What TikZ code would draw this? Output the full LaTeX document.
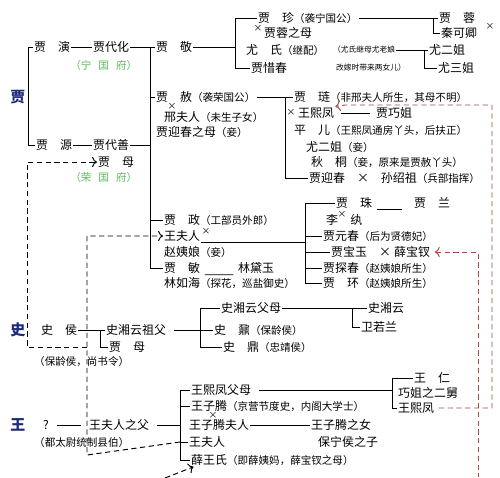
\documentclass[tikz,border=0pt]{standalone}
\usepackage{fontspec}
\setmainfont{Noto Sans CJK SC}
\usepackage{tikz}
\usetikzlibrary{arrows.meta}
\definecolor{famblue}{HTML}{1F2A7A}
\definecolor{fugreen}{HTML}{5DB85C}
\definecolor{redline}{HTML}{A84848}
\newcommand{\nt}{\fontsize{6}{6.5}\selectfont}
\newcommand{\ntt}{\fontsize{4.4}{5}\selectfont}

\begin{document}
\begin{tikzpicture}[x=0.02cm,y=-0.02cm,
  nm/.style={anchor=west,inner sep=0.5pt,font=\fontsize{6.8}{8}\selectfont},
  fam/.style={anchor=west,inner sep=0pt,text=famblue,font=\fontsize{8.5}{9}\selectfont\bfseries},
  fu/.style={anchor=west,inner sep=0pt,text=fugreen,font=\nt},
  mk/.style={inner sep=0pt,font=\fontsize{5}{5}\selectfont},
  link/.style={line width=0.55pt},
  kin/.style={line width=0.55pt,dash pattern=on 3pt off 2pt,->},
  redkin/.style={line width=0.55pt,redline,dash pattern=on 3pt off 2pt}]
\useasboundingbox (0,0) rectangle (500,477);
% brackets and bends
\coordinate (bJia) at (28,0);
\coordinate (bDai) at (150,0);
\coordinate (bJing) at (235,0);
\coordinate (bRong) at (433,0);
\coordinate (bYou) at (424,0);
\coordinate (bShe) at (285,0);
\coordinate (bZheng) at (305,0);
\coordinate (bHou) at (100,0);
\coordinate (bZufu) at (200,0);
\coordinate (bFumu) at (352,0);
\coordinate (bWang) at (180,0);
\coordinate (bXffm) at (392,0);
\coordinate (dL) at (27,0);
\coordinate (dM) at (87,0);
\coordinate (dMb) at (87,455);
\coordinate (xueFrom) at (165,478);
\coordinate (rTop) at (492,105);
\coordinate (rBend) at (345,105);
\coordinate (rBot) at (478,477);

% 宁国府
\node[fam] (jia) at (10,97) {贾};
\node[nm] (yan) at (33,47) {贾　演};
\node[nm] (daihua) at (92,47) {贾代化};
\node[fu] (ningfu) at (70,65) {（宁\hspace{4pt}国\hspace{4pt}府）};
\node[nm] (jing) at (155,47) {贾　敬};
\node[nm] (zhen) at (257,18) {贾　珍{\nt（袭宁国公）}};
\node[mk] (x1) at (258,28) {×};
\node[nm] (rongmu) at (263,33) {贾蓉之母};
\node[nm] (youshi) at (245,50) {尤　氏{\nt（继配）}};
\node[nm,font=\ntt] (younote) at (332,50) {（尤氏继母尤老娘};
\node[nm,font=\ntt] (gaijia) at (335,68) {改嫁时带来两女儿）};
\node[nm] (xichun) at (250,68) {贾惜春};
\node[nm] (rong) at (438,18) {贾　蓉};
\node[nm] (qin) at (440,33) {秦可卿};
\node[mk] (x2) at (490,26) {×};
\node[nm] (erjie) at (428,50) {尤二姐};
\node[nm] (sanjie) at (437,68) {尤三姐};
\draw[link] (yan) -- (daihua);
\draw[link] (daihua) -- (jing);
\draw[link] (jing) -- (jing -| bJing);
\draw[link] (zhen.west) -- (zhen.west -| bJing) -- (xichun.west -| bJing) -- (xichun.west);
\draw[link] (zhen) -- (zhen -| bRong);
\draw[link] (rong.west) -- (rong.west -| bRong) -- (qin.west -| bRong) -- (qin.west);
\draw[link] (younote) -- (younote -| bYou);
\draw[link] (erjie.west) -- (erjie.west -| bYou) -- (sanjie.west -| bYou) -- (sanjie.west);

% 荣国府
\node[nm] (yuan) at (35,145) {贾　源};
\node[nm] (daishan) at (92,145) {贾代善};
\node[nm] (jiamu) at (97,162) {贾　母};
\node[fu] (rongfu) at (70,177) {（荣\hspace{4pt}国\hspace{4pt}府）};
\node[nm] (she) at (155,97) {贾　赦{\nt（袭荣国公）}};
\node[mk] (x3) at (172,106) {×};
\node[nm] (xing) at (163,117) {邢夫人{\nt（未生子女）}};
\node[nm] (yingmu) at (155,132) {贾迎春之母{\nt（妾）}};
\node[nm] (lian) at (293,97) {贾　琏{\nt（非邢夫人所生，其母不明）}};
\node[mk] (x4) at (291,112) {×};
\node[nm] (xifeng) at (297,113) {王熙凤};
\node[nm] (qiaojie) at (375,113) {贾巧姐};
\node[nm] (pinger) at (293,130) {平　儿{\nt（王熙凤通房丫头，后扶正）}};
\node[nm] (youer) at (305,147) {尤二姐{\nt（妾）}};
\node[nm] (qiutong) at (310,162) {秋　桐{\nt（妾，原来是贾赦丫头）}};
\node[nm] (yingchun) at (308,178) {贾迎春　×　孙绍祖{\nt（兵部指挥）}};
\draw[link] (yan.west) -- (yan.west -| bJia) -- (yuan.west -| bJia) -- (yuan.west);
\draw[link] (yuan) -- (daishan);
\draw[link] (daishan) -- (daishan -| bDai);
\draw[link] (she) -- (she -| bShe);
\draw[link] (lian.west) -- (lian.west -| bShe) -- (yingchun.west -| bShe) -- (yingchun.west);
\draw[link,shorten <=3pt,shorten >=3pt] (xifeng) -- (qiaojie);

% 贾政一支
\node[nm] (zheng) at (163,220) {贾　政{\nt（工部员外郎）}};
\node[nm] (wangfuren) at (163,236) {王夫人};
\node[mk] (x5) at (206,231) {×};
\node[nm] (zhao) at (163,252) {赵姨娘{\nt（妾）}};
\node[nm] (min) at (163,268) {贾　敏};
\node[nm] (daiyu) at (237,268) {林黛玉};
\node[nm] (ruhai) at (163,283) {林如海{\nt（探花，巡盐御史）}};
\node[nm] (zhu) at (335,203) {贾　珠};
\node[nm] (lan) at (413,203) {贾　兰};
\node[nm] (liwan) at (325,220) {李\hspace{7pt}纨};
\node[mk] (x6) at (342,214) {×};
\node[nm] (yuanchun) at (322,236) {贾元春{\nt（后为贤德妃）}};
\node[nm] (baoyu) at (330,252) {贾宝玉　×};
\node[nm] (baochai) at (393,252) {薛宝钗};
\node[nm] (tanchun) at (322,268) {贾探春{\nt（赵姨娘所生）}};
\node[nm] (huan) at (322,283) {贾　环{\nt（赵姨娘所生）}};
\draw[link] (jing.west -| bDai) -- (min.west -| bDai);
\draw[link] (she.west) -- (she.west -| bDai);
\draw[link] (zheng.west) -- (zheng.west -| bDai);
\draw[link] (min.west) -- (min.west -| bDai);
\draw[link] (wangfuren.south east) -- (wangfuren.south east -| bZheng);
\draw[link,shorten <=2pt,shorten >=2pt] (min.south east) -- (daiyu.south west);
\draw[link,shorten <=2pt,shorten >=6pt] (zhu.south east) -- (lan.south west);
\draw[link] (zhu.west) -- (zhu.west -| bZheng) -- (huan.west -| bZheng) -- (huan.west);
\draw[link] (yuanchun.west -| bZheng) -- (yuanchun.west);
\draw[link] (baoyu.west -| bZheng) -- (baoyu.west);
\draw[link] (tanchun.west -| bZheng) -- (tanchun.west);

% 史家
\node[fam] (shi) at (10,330) {史};
\node[nm] (shihou) at (40,330) {史　侯};
\node[nm,font=\nt] (shinote) at (33,362) {（保龄侯，尚书令）};
\node[nm] (zufu) at (105,330) {史湘云祖父};
\node[nm] (jiamuS) at (108,347) {贾　母};
\node[nm] (fumu) at (220,308) {史湘云父母};
\node[nm] (nai) at (213,330) {史　鼐{\nt（保龄侯）}};
\node[nm] (ding) at (222,347) {史　鼎{\nt（忠靖侯）}};
\node[nm] (xiangyun) at (367,308) {史湘云};
\node[nm] (ruolan) at (360,327) {卫若兰};
\draw[link] (shihou) -- (shihou -| bHou);
\draw[link] (zufu.west) -- (zufu.west -| bHou) -- (jiamuS.west -| bHou) -- (jiamuS.west);
\draw[link,shorten <=4pt] (zufu) -- (zufu -| bZufu);
\draw[link] (fumu.west) -- (fumu.west -| bZufu) -- (ding.west -| bZufu) -- (ding.west);
\draw[link] (nai.west) -- (nai.west -| bZufu);
\draw[link] (fumu) -- (fumu -| bFumu);
\draw[link] (xiangyun.west) -- (xiangyun.west -| bFumu) -- (ruolan.west -| bFumu) -- (ruolan.west);

% 王家
\node[fam] (wang) at (10,425) {王};
\node[nm] (wq) at (42,425) {?};
\node[nm] (wfzf) at (88,425) {王夫人之父};
\node[nm,font=\nt] (wnote) at (33,442) {（都太尉统制县伯）};
\node[nm] (xffm) at (190,390) {王熙凤父母};
\node[nm] (zt) at (190,406) {王子腾{\nt（京营节度史，内阁大学士）}};
\node[mk] (x7) at (213,415) {×};
\node[nm] (ztfr) at (188,425) {王子腾夫人};
\node[nm] (ztnv) at (310,425) {王子腾之女};
\node[nm] (wfrW) at (188,442) {王夫人};
\node[nm] (bnz) at (317,442) {保宁侯之子};
\node[nm] (xuewang) at (190,460) {薛王氏{\nt（即薛姨妈，薛宝钗之母）}};
\node[nm] (wangren) at (413,378) {王　仁};
\node[nm] (erjiu) at (397,393) {巧姐之二舅};
\node[nm] (xfW) at (397,408) {王熙凤};
\draw[link,shorten <=4pt,shorten >=4pt] (wq) -- (wfzf);
\draw[link,shorten <=4pt] (wfzf) -- (wfzf -| bWang);
\draw[link] (xffm.west) -- (xffm.west -| bWang) -- (xuewang.west -| bWang) -- (xuewang.west);
\draw[link] (zt.west) -- (zt.west -| bWang);
\draw[link] (wfrW.west) -- (wfrW.west -| bWang);
\draw[link] (ztfr) -- (ztnv);
\draw[link,shorten <=4pt] (xffm) -- (xffm -| bXffm);
\draw[link] (wangren.west) -- (wangren.west -| bXffm) -- (xfW.west -| bXffm) -- (xfW.west);

% 亲缘虚线
\draw[kin] (jiamuS.west -| dM) -- (jiamuS.west -| dL) -- (jiamu.west -| dL) -- (jiamu.west);
\draw[kin] (wfrW.west -| bWang) -- (dMb) -- (wangfuren.west -| dM) -- (wangfuren.west);
\draw[kin] (xueFrom) -- ([xshift=2pt]xuewang.south west);
\draw[redkin,->] ([xshift=2pt]xfW.east) -- (xfW.east -| rTop) -- (rTop) -- (rBend) -- (xifeng.north east);
\draw[redkin,<-] ([xshift=2pt]baochai.east) -- (baochai.east -| rBot) -- (rBot);
\end{tikzpicture}
\end{document}
